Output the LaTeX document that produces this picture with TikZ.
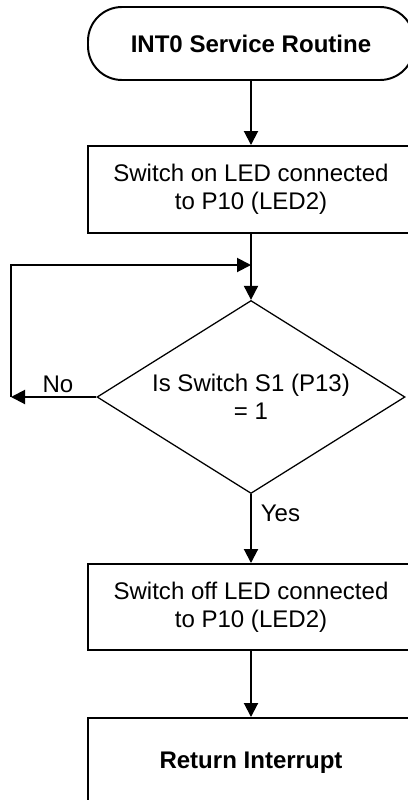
\documentclass[tikz,border=0pt]{standalone}
\usepackage{fontspec}
\setmainfont{Liberation Sans}
\usetikzlibrary{arrows.meta,shapes.geometric}

\begin{document}
\begin{tikzpicture}[
    font=\fontsize{17.1}{19.6}\selectfont,
    flowbox/.style={draw, line width=1.4pt, minimum width=8.15cm, align=center, inner sep=0pt},
    termbox/.style={flowbox, rounded corners=0.85cm},
    decbox/.style={draw, diamond, aspect=1.6, line width=0.9pt, minimum width=7.7cm,
      minimum height=4.825cm, align=center, inner sep=0pt},
    flowarrow/.style={line width=1.4pt, -{Triangle[length=0.35cm,width=0.35cm]}}
  ]
  % Page frame of the reference; the boxes run past its right and bottom edges.
  \useasboundingbox (0,0) rectangle (10.175,-20);

  \node[termbox, minimum height=1.825cm] (start) at (6.275,-1.0875)
    {\bfseries INT0 Service Routine};
  \node[flowbox, minimum height=2.175cm] (ledon) at (6.275,-4.7375)
    {Switch on LED connected\\to P10 (LED2)};
  \node[decbox] (chk) at (6.275,-9.925) {Is Switch S1 (P13)\\= 1};
  \node[flowbox, minimum height=2.15cm] (ledoff) at (6.275,-15.175)
    {Switch off LED connected\\to P10 (LED2)};
  \node[flowbox, minimum height=2.25cm] (ret) at (6.275,-19.075)
    {\bfseries Return Interrupt};

  % loop back above the decision
  \coordinate (join) at (6.275,-6.625);
  \coordinate (loop) at (0.275,-9.925);

  \draw[flowarrow] (start) -- (ledon);
  \draw[flowarrow] (ledon) -- (chk);
  \draw[flowarrow] (chk.west) -- node[above, pos=0.45, inner sep=0.08cm] {No} (loop);
  \draw[flowarrow] (loop) |- (join);
  \draw[flowarrow] (chk) -- node[right, pos=0.28, inner sep=0.22cm] {Yes} (ledoff);
  \draw[flowarrow] (ledoff) -- (ret);
\end{tikzpicture}
\end{document}
